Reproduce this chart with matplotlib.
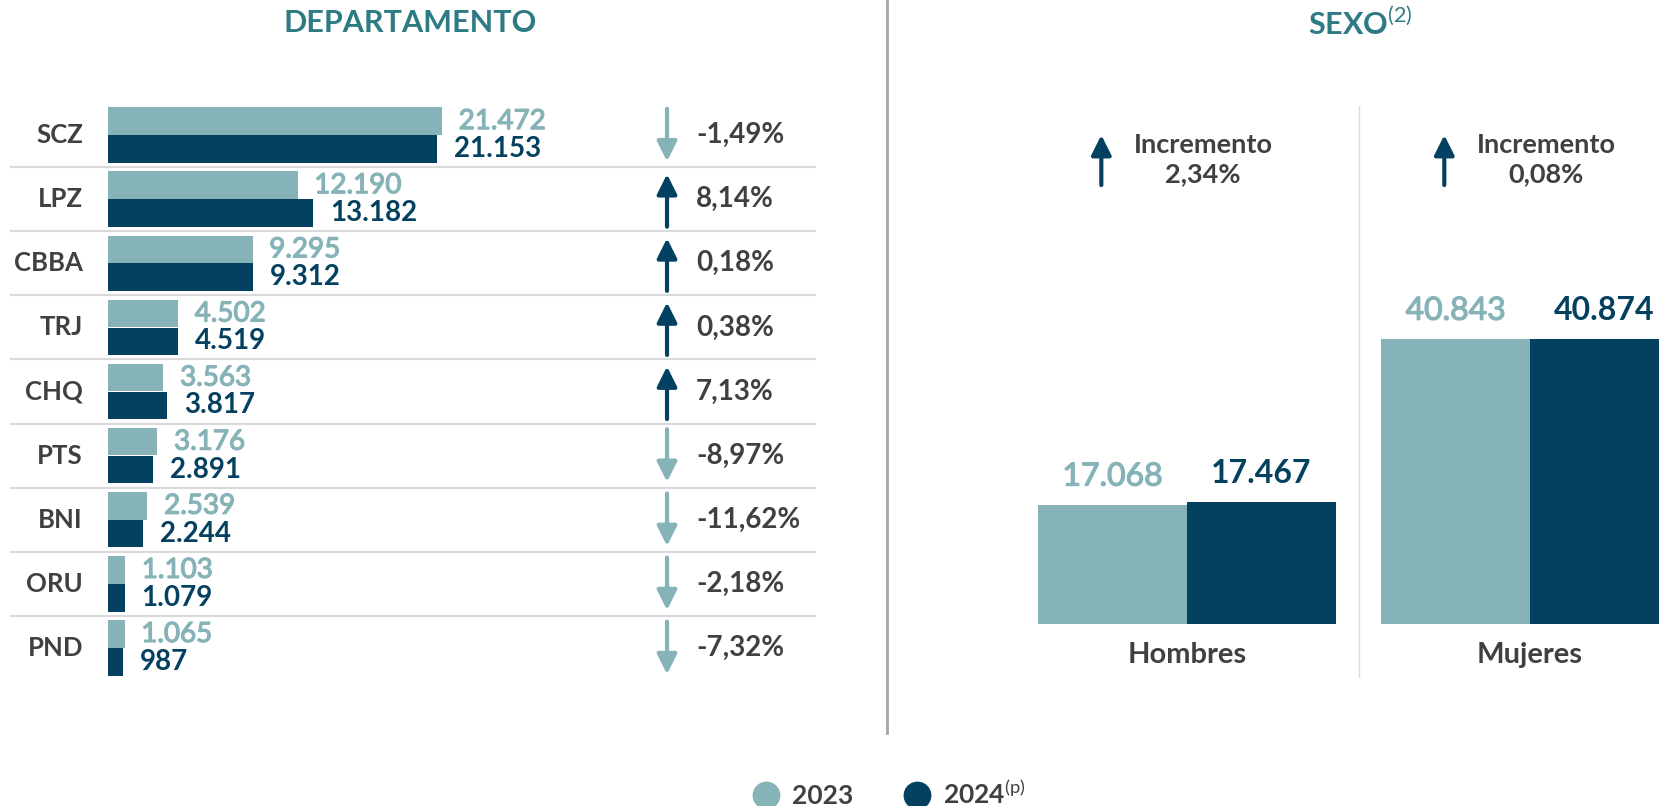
import matplotlib.pyplot as plt
import matplotlib.patheffects as pe
from matplotlib.lines import Line2D

plt.rcParams['font.family'] = ['Lato', 'DejaVu Sans']
plt.rcParams['mathtext.fontset'] = 'custom'
plt.rcParams['mathtext.rm'] = 'Lato'
plt.rcParams['mathtext.bf'] = 'Lato:bold'

# Data
departamentos = ['SCZ', 'LPZ', 'CBBA', 'TRJ', 'CHQ', 'PTS', 'BNI', 'ORU', 'PND']
dep_2023 = [21472, 12190, 9295, 4502, 3563, 3176, 2539, 1103, 1065]
dep_2024 = [21153, 13182, 9312, 4519, 3817, 2891, 2244, 1079, 987]

sexos = ['Hombres', 'Mujeres']
sexo_2023 = [17068, 40843]
sexo_2024 = [17467, 40874]

c23 = '#86B3B7'
c24 = '#04405F'
ctit = '#2E7B84'
ctxt = '#404040'

W, H = 1659, 806
fig = plt.figure(figsize=(W / 100, H / 100), dpi=100)

# slightly heavier stroke for the light 2023 labels (semibold look)
semi = [pe.withStroke(linewidth=0.9, foreground=c23)]


def miles(v):
    return f"{v:,}".replace(',', '.')


def pct(a, b):
    return f"{(b - a) / a * 100:.2f}".replace('.', ',') + '%'


def arrow(ax, x, y0, y1, color):
    ax.annotate('', xy=(x, y1), xytext=(x, y0), annotation_clip=False,
                arrowprops=dict(arrowstyle='-|>,head_width=0.4,head_length=0.8',
                                color=color, lw=3.0, mutation_scale=15,
                                shrinkA=0, shrinkB=0))


# ---- left panel: departamento
axl = fig.add_axes([108 / W, 1 - 680 / H, 779 / W, 577 / H])
xmax = 50080
axl.set_xlim(0, xmax)
axl.set_ylim(8.5, -0.5)
axl.axis('off')

rows = range(len(departamentos))
axl.barh([i - 0.218 for i in rows], dep_2023, height=0.43, color=c23)
axl.barh([i + 0.218 for i in rows], dep_2024, height=0.43, color=c24)

for i, (dep, a, b) in enumerate(zip(departamentos, dep_2023, dep_2024)):
    axl.annotate(dep, xy=(0, i), xytext=(-18, 0), textcoords='offset points',
                 ha='right', va='center', fontsize=18.5, fontweight='bold', color=ctxt)
    axl.annotate(miles(a), xy=(a, i - 0.218), xytext=(12, 0), textcoords='offset points',
                 ha='left', va='center', fontsize=20, color=c23, path_effects=semi)
    axl.annotate(miles(b), xy=(b, i + 0.218), xytext=(12, 0), textcoords='offset points',
                 ha='left', va='center', fontsize=20, fontweight='bold', color=c24)
    if b >= a:
        arrow(axl, 35938, i + 0.43, i - 0.39, c24)
    else:
        arrow(axl, 35938, i - 0.41, i + 0.41, c23)
    axl.text(37803, i, pct(a, b), ha='left', va='center', fontsize=20,
             fontweight='bold', color=ctxt)
    if i < len(departamentos) - 1:
        axl.plot([-6236, 45453], [i + 0.5, i + 0.5], color='#D9D9D9', lw=1.5,
                 clip_on=False)

# ---- right panel: sexo
axr = fig.add_axes([900 / W, 1 - 624 / H, 759 / W, 524 / H])
axr.set_xlim(-0.837, 1.376)
axr.set_ylim(0, 75150)
axr.axis('off')

gx = range(len(sexos))
bw = 0.434
axr.bar([g - bw / 2 for g in gx], sexo_2023, width=bw, color=c23)
axr.bar([g + bw / 2 for g in gx], sexo_2024, width=bw, color=c24)
axr.plot([0.5, 0.5], [-7600, 74281], color='#DDDDDD', lw=1, clip_on=False)

for g, (s, a, b) in enumerate(zip(sexos, sexo_2023, sexo_2024)):
    axr.annotate(miles(a), xy=(g - bw / 2, a), xytext=(0, 14), textcoords='offset points',
                 ha='center', va='baseline', fontsize=23, color=c23, path_effects=semi)
    axr.annotate(miles(b), xy=(g + bw / 2, b), xytext=(0, 14), textcoords='offset points',
                 ha='center', va='baseline', fontsize=23, fontweight='bold', color=c24)
    axr.annotate(s, xy=(g, 0), xytext=(0, -22), textcoords='offset points',
                 ha='center', va='center', fontsize=21, fontweight='bold', color=ctxt,
                 annotation_clip=False)
    arrow(axr, g - 0.25, 62953, 70123, c24 if b >= a else c23)
    axr.text(g + 0.047, 66600, 'Incremento\n' + pct(a, b).lstrip('-'),
             ha='center', va='center', fontsize=19.5, fontweight='bold', color=ctxt,
             linespacing=1.25)

# ---- titles, divider, legend
fig.text(410 / W, 1 - 23 / H, 'DEPARTAMENTO', ha='center', va='center',
         fontsize=22, fontweight='bold', color=ctit)
fig.text(1360 / W, 1 - 23 / H, r'SEXO$^{\mathrm{(2)}}$', ha='center', va='center',
         fontsize=22, fontweight='bold', color=ctit)
fig.add_artist(Line2D([887 / W, 887 / W], [1 - 733 / H, 1], color='#A6A6A6', lw=2))

handles = [Line2D([], [], ls='', marker='o', ms=19, color=c23),
           Line2D([], [], ls='', marker='o', ms=19, color=c24)]
fig.legend(handles, ['2023', r'2024$^{\mathrm{(p)}}$'], loc='center',
           bbox_to_anchor=(888 / W, 13 / H), ncol=2, frameon=False,
           prop={'size': 19, 'weight': 'bold'}, labelcolor=ctxt,
           handletextpad=0.4, columnspacing=1.8, handlelength=1.2)

fig.savefig('out.png', dpi=100)
